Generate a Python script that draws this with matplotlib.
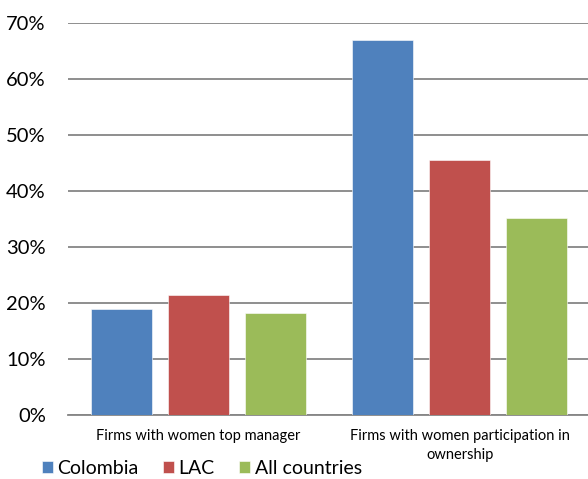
import matplotlib
matplotlib.use("Agg")
import matplotlib.pyplot as plt
import numpy as np

categories = ["Firms with women top manager",
              "Firms with women participation in\nownership"]
series_names = ["Colombia", "LAC", "All countries"]
colombia = [18.9, 67.0]
lac = [21.4, 45.6]
all_countries = [18.1, 35.2]
y_ticks = [0, 10, 20, 30, 40, 50, 60, 70]

colors = ["#4F81BD", "#C0504D", "#9BBB59"]

plt.rcParams["font.family"] = ["Lato", "DejaVu Sans"]

fig = plt.figure(figsize=(5.88, 4.79), dpi=100)
ax = fig.add_axes([0.1156, 0.1342, 0.888, 0.8178])

x = np.arange(len(categories))
width = 0.234
offset = 0.294
for i, (name, vals) in enumerate(zip(series_names, [colombia, lac, all_countries])):
    ax.bar(x + (i - 1) * offset, vals, width=width, color=colors[i],
           label=name, zorder=3, edgecolor="white", linewidth=0.4)

ax.set_xlim(-0.5, 1.5)
ax.set_ylim(0, 70)
ax.set_yticks(y_ticks)
ax.set_yticklabels([f"{t}%" for t in y_ticks], fontsize=14.5)
ax.yaxis.grid(True, color="#868686", linewidth=1.3, zorder=0)
ax.set_axisbelow(True)
ax.tick_params(axis="y", length=0, pad=16)
ax.tick_params(axis="x", length=0, pad=10)
ax.set_xticks(x)
ax.set_xticklabels(categories, fontsize=10.5, linespacing=1.45)
for side in ["top", "right", "left"]:
    ax.spines[side].set_visible(False)
ax.spines["bottom"].set_color("#868686")
ax.spines["bottom"].set_linewidth(1.3)

leg = fig.legend(loc="lower left", bbox_to_anchor=(0.068, 0.0), ncol=3,
                 frameon=False, fontsize=14, handlelength=0.58, handleheight=0.58,
                 handletextpad=0.22, columnspacing=1.25, borderaxespad=0,
                 borderpad=0.1)

fig.savefig("out.png", dpi=100)
